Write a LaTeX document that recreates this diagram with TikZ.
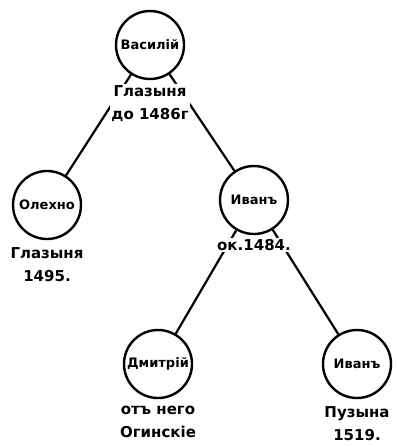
\documentclass[tikz,border=0pt]{standalone}
\usepackage{fontspec}
\setmainfont{DejaVu Sans}
\usetikzlibrary{positioning}

\begin{document}
\begin{tikzpicture}[x=1pt, y=-1pt,
    person/.style={circle, draw, line width=2.4pt, minimum size=68pt, inner sep=0pt, font=\bfseries\fontsize{13}{15}\selectfont},
    note/.style={fill=white, inner sep=1pt, align=center, font=\bfseries\fontsize{15}{23}\selectfont},
    link/.style={line width=2.2pt}]
    \useasboundingbox (0, 0) rectangle (398, 447);

    % --- Personen ---
    \node[person] (vasilij) at (150, 45) {Василій};
    \node[person] (olechno) at (47, 205) {Олехно};
    \node[person] (ivan) at (254, 200) {Иванъ};
    \node[person] (dmitrij) at (158, 364) {Дмитрій};
    \node[person] (ivanb) at (357, 364) {Иванъ};

    % --- Linien ---
    \draw[link] (vasilij) -- (olechno);
    \draw[link] (vasilij) -- (ivan);
    \draw[link] (ivan) -- (dmitrij);
    \draw[link] (ivan) -- (ivanb);

    % --- Notizen ---
    \node[note, below=4pt of vasilij] (vasnote) {Глазыня\\до 1486г};
    \node[note, below=6pt of olechno] (olnote) {Глазыня\\1495.};
    \node[note, below=3pt of ivan] (ivnote) {ок.1484.};
    \node[note, below=6pt of dmitrij] (dmnote) {отъ него\\Огинскіе};
    \node[note, below=6pt of ivanb] (ivbnote) {Пузына\\1519.};
\end{tikzpicture}
\end{document}
